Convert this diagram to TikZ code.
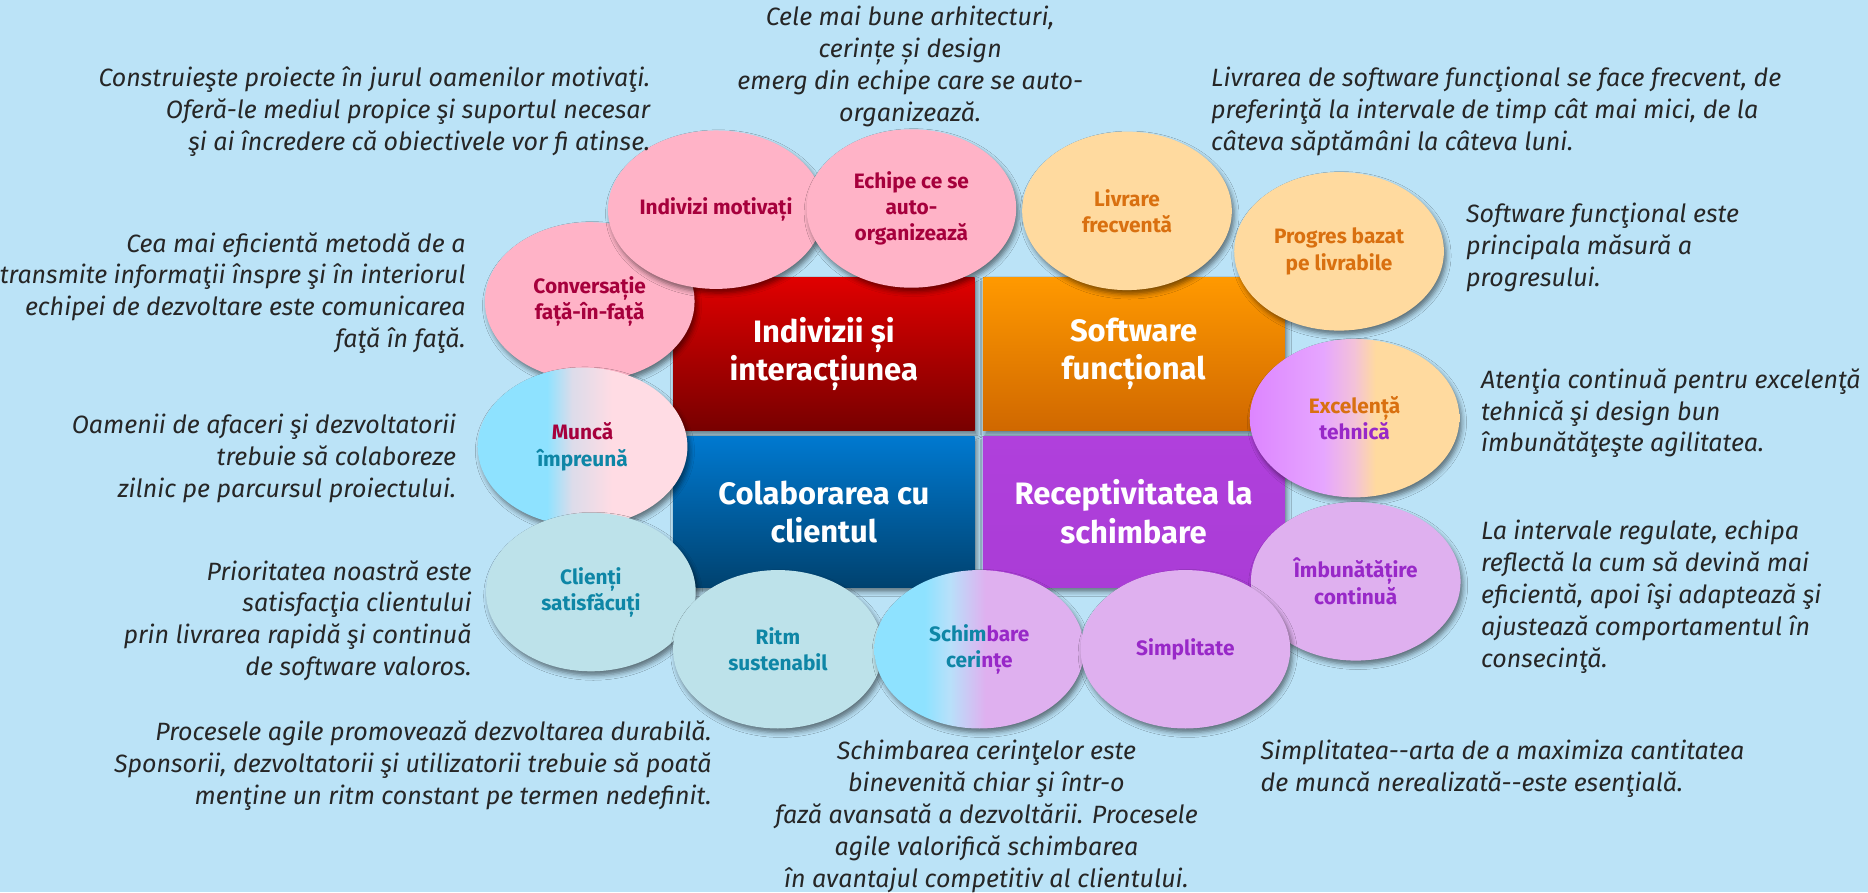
\documentclass[tikz,border=0pt]{standalone}
\usepackage{fontspec}
\setmainfont{Fira Sans}
\usetikzlibrary{shapes.geometric,shadows.blur}
\definecolor{bg}{RGB}{187,227,247}
\definecolor{dtext}{RGB}{38,38,38}
\definecolor{pinkF}{RGB}{255,179,199}
\definecolor{peachF}{RGB}{255,218,159}
\definecolor{lavF}{RGB}{223,176,239}
\definecolor{tealF}{RGB}{189,226,234}
\definecolor{cyanF}{RGB}{142,226,255}
\definecolor{pinkL}{RGB}{255,220,228}
\definecolor{midML}{RGB}{220,220,234}
\definecolor{midSC}{RGB}{184,224,250}
\definecolor{violF}{RGB}{221,133,255}
\definecolor{violL}{RGB}{230,166,255}
\definecolor{pinkMid}{RGB}{243,194,216}
\definecolor{crimT}{RGB}{166,0,60}
\definecolor{oranT}{RGB}{217,112,16}
\definecolor{purpT}{RGB}{152,40,200}
\definecolor{tealT}{RGB}{14,134,166}
\definecolor{redTop}{RGB}{224,0,0}
\definecolor{redBot}{RGB}{120,0,0}
\definecolor{orTop}{RGB}{255,153,0}
\definecolor{orBot}{RGB}{208,104,0}
\definecolor{blTop}{RGB}{0,121,208}
\definecolor{blBot}{RGB}{0,66,111}
\definecolor{puTop}{RGB}{176,64,220}
\definecolor{puBot}{RGB}{170,60,214}
\pgfdeclarehorizontalshading{shMunca}{100bp}{color(0bp)=(cyanF); color(41.5bp)=(cyanF); color(47.5bp)=(midML); color(57bp)=(pinkL); color(100bp)=(pinkL)}
\pgfdeclarehorizontalshading{shSchimb}{100bp}{color(0bp)=(cyanF); color(37bp)=(cyanF); color(43bp)=(midSC); color(51.5bp)=(lavF); color(100bp)=(lavF)}
\pgfdeclarehorizontalshading{shExcel}{100bp}{color(0bp)=(violF); color(25bp)=(violF); color(42.5bp)=(violL); color(50bp)=(pinkMid); color(55bp)=(peachF); color(100bp)=(peachF)}
\newcommand\dscf{\fontsize{21}{26.8}\selectfont\itshape}
\newcommand\lblf{\fontsize{17.5}{22}\selectfont\bfseries}
\newcommand\ttlf{\fontsize{26}{32}\selectfont\bfseries}
\tikzset{
  shadowed/.style={blur shadow={shadow xshift=2pt,shadow yshift=-3.5pt,shadow blur radius=4pt,shadow opacity=50}},
  quad/.style={rectangle, minimum width=253pt, minimum height=128pt, inner sep=0pt, align=center, font=\ttlf, text=white, shadowed},
  bub/.style={ellipse, minimum width=176pt, minimum height=133pt, inner sep=0pt, align=center, font=\lblf, shadowed},
  pinkbub/.style={bub, fill=pinkF, text=crimT},
  peachbub/.style={bub, fill=peachF, text=oranT},
  lavbub/.style={bub, fill=lavF, text=purpT},
  tealbub/.style={bub, fill=tealF, text=tealT},
  dsc/.style={font=\dscf, text=dtext, inner sep=0pt}
}
\begin{document}
\begin{tikzpicture}[x=1pt,y=-1pt]
\useasboundingbox (0,0) rectangle (1568,749);
\fill[bg] (0,0) rectangle (1568,749);

% quadrants
\node[quad, top color=redTop, bottom color=redBot] (q1) at (691.5,297) {Indivizii și\\interacțiunea};
\node[quad, top color=orTop, bottom color=orBot] (q2) at (951.5,297) {Software\\funcțional};
\node[quad, minimum height=127pt, top color=blTop, bottom color=blBot] (q3) at (691.5,429.5) {Colaborarea cu\\clientul};
\node[quad, minimum height=127pt, top color=puTop, bottom color=puBot] (q4) at (951.5,429.5) {Receptivitatea la\\schimbare};

% bubbles
\node[pinkbub] (conv) at (495,253) {Conversație\\față-în-față};
\node[pinkbub] (indiv) at (601,176) {Indivizi motivați};
\node[pinkbub] (echipe) at (765,175) {Echipe ce se\\auto-\\organizează};
\node[peachbub] (livr) at (946,177) {Livrare\\frecventă};
\node[peachbub] (progr) at (1124,211) {Progres bazat\\pe livrabile};
\node[bub, shading=shExcel] (excel) at (1137,351) {\textcolor{oranT}{Excelență}\\\textcolor{purpT}{tehnică}};
\node[lavbub] (imbun) at (1138,488) {Îmbunătățire\\continuă};
\node[bub, shading=shMunca] (munca) at (489,375) {\textcolor{crimT}{Muncă}\\\textcolor{tealT}{împreună}};
\node[tealbub] (clienti) at (496,497) {Clienți\\satisfăcuți};
\node[tealbub] (ritm) at (653,545) {Ritm\\sustenabil};
\node[bub, shading=shSchimb] (schimb) at (822,545) {\textcolor{tealT}{Schim}\textcolor{purpT}{bare}\\\textcolor{tealT}{ceri}\textcolor{purpT}{nțe}};
\node[lavbub] (simpl) at (995,545) {Simplitate};

% descriptions
\node[dsc, align=center, anchor=center] (dA) at (764,55.6) {Cele mai bune arhitecturi,\\cerințe și design\\emerg din echipe care se auto-\\organizează.};
\node[dsc, align=right, anchor=east] (dB) at (546,93.7) {Construieşte proiecte în jurul oamenilor motivaţi.\\Oferă-le mediul propice şi suportul necesar\\şi ai încredere că obiectivele vor fi atinse.};
\node[dsc, align=right, anchor=east] (dC) at (391,246) {Cea mai eficientă metodă de a\\transmite informaţii înspre şi în interiorul\\echipei de dezvoltare este comunicarea\\faţă în faţă.};
\node[dsc, align=right, anchor=east] (dD) at (383,384.7) {Oamenii de afaceri şi dezvoltatorii\\trebuie să colaboreze\\zilnic pe parcursul proiectului.};
\node[dsc, align=right, anchor=east] (dE) at (396,521) {Prioritatea noastră este\\satisfacţia clientului\\prin livrarea rapidă şi continuă\\de software valoros.};
\node[dsc, align=right, anchor=east] (dF) at (597.5,643) {Procesele agile promovează dezvoltarea durabilă.\\Sponsorii, dezvoltatorii şi utilizatorii trebuie să poată\\menţine un ritm constant pe termen nedefinit.};
\node[dsc, align=center, anchor=center] (dG) at (828,685.5) {Schimbarea cerinţelor este\\binevenită chiar şi într-o\\fază avansată a dezvoltării. Procesele\\agile valorifică schimbarea\\în avantajul competitiv al clientului.};
\node[dsc, align=left, anchor=west] (dH) at (1058,645.5) {Simplitatea-{}-arta de a maximiza cantitatea\\de muncă nerealizată-{}-este esenţială.};
\node[dsc, align=left, anchor=west] (dI) at (1016.5,93.7) {Livrarea de software funcţional se face frecvent, de\\preferinţă la intervale de timp cât mai mici, de la\\câteva săptămâni la câteva luni.};
\node[dsc, align=left, anchor=west] (dJ) at (1230.5,208) {Software funcţional este\\principala măsură a\\progresului.};
\node[dsc, align=left, anchor=west] (dK) at (1243,346.8) {Atenţia continuă pentru excelenţă\\tehnică şi design bun\\îmbunătăţeşte agilitatea.};
\node[dsc, align=left, anchor=west] (dL) at (1243,500.8) {La intervale regulate, echipa\\reflectă la cum să devină mai\\eficientă, apoi îşi adaptează şi\\ajustează comportamentul în\\consecinţă.};
\end{tikzpicture}
\end{document}
